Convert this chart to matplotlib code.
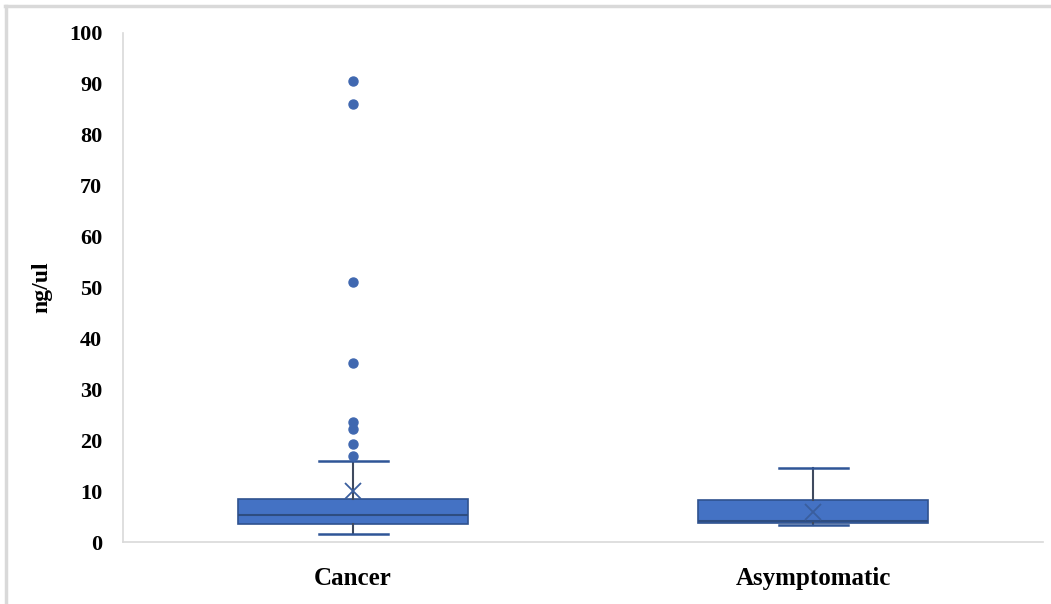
import matplotlib
matplotlib.use("Agg")
import matplotlib.pyplot as plt
from matplotlib.lines import Line2D

# Data (ng/ul)
groups = ["Cancer", "Asymptomatic"]
q1 = [3.5, 3.7]
med = [5.3, 4.2]
q3 = [8.4, 8.3]
whislo = [1.6, 3.3]
whishi = [15.9, 14.5]
means = [10.0, 5.9]
cancer_outliers = [90.5, 86.0, 51.0, 35.2, 23.5, 22.2, 19.2, 16.8]
asym_outliers = []
fliers = [cancer_outliers, asym_outliers]

yticks = list(range(0, 101, 10))

plt.rcParams['font.family'] = ['Liberation Serif', 'DejaVu Serif']

fig = plt.figure(figsize=(10.51, 6.04), dpi=100)
ax = fig.add_axes([123 / 1051, 1 - 542 / 604, (1043 - 123) / 1051, (542 - 33) / 604])

stats = []
for i in range(len(groups)):
    stats.append(dict(label=groups[i], q1=q1[i], med=med[i], q3=q3[i],
                      whislo=whislo[i], whishi=whishi[i], mean=means[i],
                      fliers=fliers[i]))

blue = '#4472C4'
dark = '#2F528F'
ax.bxp(stats, positions=range(len(groups)), widths=0.5, patch_artist=True,
       showmeans=True, showfliers=True,
       boxprops=dict(facecolor=blue, edgecolor=dark, linewidth=1.2),
       medianprops=dict(color='#2E4D80', linewidth=1.5),
       whiskerprops=dict(color='#3F4A5F', linewidth=1.5),
       capprops=dict(color='#2F5597', linewidth=1.8),
       capwidths=0.15,
       meanprops=dict(marker='x', markeredgecolor='#3A5E9E', markersize=11,
                      markeredgewidth=1.3),
       flierprops=dict(marker='o', markerfacecolor='#4068B0',
                       markeredgecolor='#4068B0', markersize=6.5))

ax.set_xlim(-0.5, 1.5)
ax.set_ylim(0, 100)
ax.set_yticks(yticks)
ax.set_xticks(range(len(groups)))
ax.set_xticklabels(groups, fontsize=18, fontweight='bold')
for lab in ax.get_yticklabels():
    lab.set_fontsize(16)
    lab.set_fontweight('bold')
ax.tick_params(axis='both', length=0)
ax.tick_params(axis='y', pad=15)
ax.tick_params(axis='x', pad=18)
ax.set_ylabel('ng/ul', fontsize=17, fontweight='bold', labelpad=12)

for side in ['top', 'right']:
    ax.spines[side].set_visible(False)
for side in ['left', 'bottom']:
    ax.spines[side].set_color('#D9D9D9')
    ax.spines[side].set_linewidth(1.2)

# light frame around the picture
fig.add_artist(Line2D([5 / 1051, 1], [1 - 6 / 604, 1 - 6 / 604],
                      transform=fig.transFigure, color='#D9D9D9', linewidth=2.5))
fig.add_artist(Line2D([6 / 1051, 6 / 1051], [0, 1 - 6 / 604],
                      transform=fig.transFigure, color='#D9D9D9', linewidth=2.5))

fig.savefig('out.png', dpi=100)
